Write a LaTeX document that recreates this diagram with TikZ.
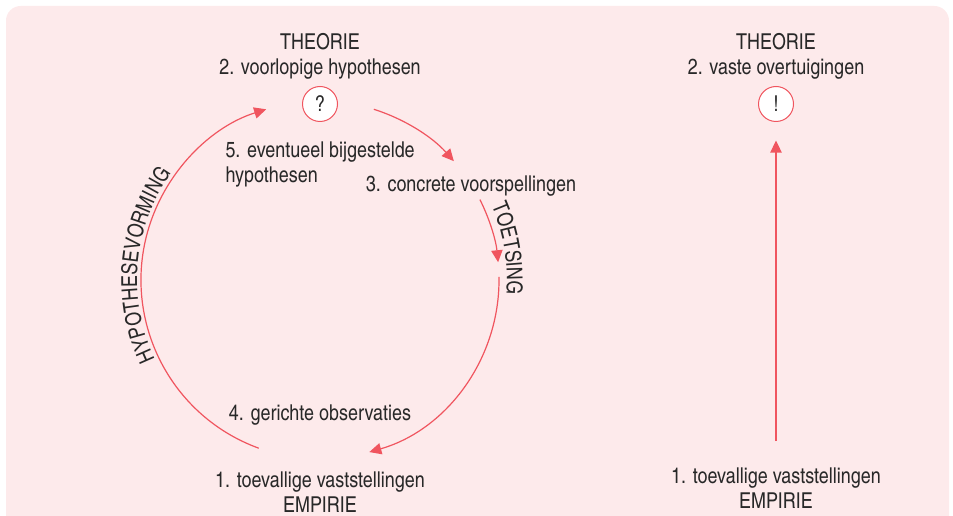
\documentclass[tikz,border=0pt]{standalone}
\usepackage{fontspec}
\setmainfont{TeX Gyre Heros Cn}
\usetikzlibrary{arrows.meta,decorations.text}

\definecolor{cyclered}{RGB}{240,85,95}
\definecolor{panelpink}{RGB}{253,234,235}
\definecolor{inkgrey}{RGB}{40,40,40}

\tikzset{every picture/.style={line width=0.75pt}}
\tikzset{
  lbl/.style={text=inkgrey, font=\fontsize{16.4}{18.75}\selectfont, align=center, inner sep=0pt},
  bubble/.style={circle, draw=cyclered, fill=white, minimum size=26.25pt, inner sep=0pt, text=inkgrey, font=\fontsize{16.4}{18.75}\selectfont},
  cycline/.style={draw=cyclered, line width=0.9pt},
  cycarrow/.style={cycline, -{Triangle[length=9pt,width=8.5pt]}},
  bendtext/.style={decorate, decoration={text along path, text align=center, text color=inkgrey, text={|\fontsize{16.4}{18.75}\selectfont|#1}}}
}

\begin{document}
\begin{tikzpicture}[x=0.75pt,y=0.75pt,yscale=-1,xscale=1]
\clip (0,0) rectangle (953,516);

%Panel
\fill[panelpink, rounded corners=11pt] (6,6) rectangle (949,560);

%Left cycle: centre of the circle
\coordinate (cyc) at (320,280);

%Text Nodes left
\node[lbl] (theoryL) at (320,56) {THEORIE\\2. voorlopige hypothesen};
\node[bubble] (qmark) at (320,104) {?};
\node[lbl, anchor=west, align=left] (revised) at (225,164) {5. eventueel bijgestelde\\hypothesen};
\node[lbl] (predict) at (471,186) {3. concrete voorspellingen};
\node[lbl] (observe) at (320,415) {4. gerichte observaties};
\node[lbl] (empiryL) at (320,492) {1. toevallige vaststellingen\\EMPIRIE};

%Curve Lines
\draw[cycarrow] ([shift={(110:179)}]cyc) arc[start angle=110, end angle=252.5, radius=179];
\draw[cycarrow] ([shift={(-72.5:179)}]cyc) arc[start angle=-72.5, end angle=-41.6, radius=179];
\draw[cycarrow] ([shift={(-26.7:179)}]cyc) arc[start angle=-26.7, end angle=-5.7, radius=179];
\draw[cycarrow] ([shift={(-1:179)}]cyc) arc[start angle=-1, end angle=74, radius=179];

%Curved labels
\path[bendtext={HYPOTHESEVORMING}] ([shift={(140:183)}]cyc) arc[start angle=140, end angle=230, radius=183];
\path[bendtext={TOETSING}] ([shift={(-40:187)}]cyc) arc[start angle=-40, end angle=21, radius=187];

%Text Nodes right
\node[lbl] (theoryR) at (776,56) {THEORIE\\2. vaste overtuigingen};
\node[bubble] (emark) at (776,104) {!};
\node[lbl] (empiryR) at (776,488) {1. toevallige vaststellingen\\EMPIRIE};
\coordinate (riseR) at (776,441);

%Straight Lines
\draw[cycarrow, shorten >=13.9pt] (riseR) -- (emark.south);

\end{tikzpicture}
\end{document}
